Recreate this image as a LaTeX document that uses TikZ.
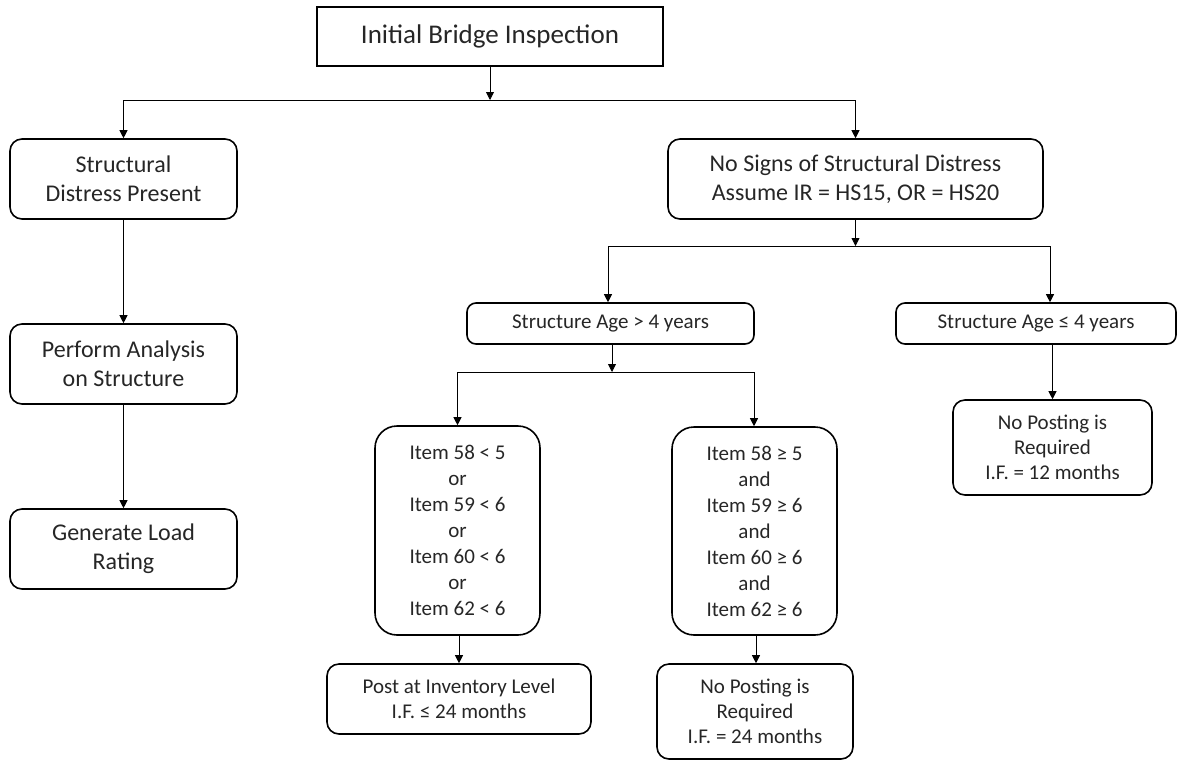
\documentclass[tikz,border=0pt]{standalone}
\usepackage{fontspec}
\setmainfont{Carlito}
\usetikzlibrary{arrows.meta}
\begin{document}
\begin{tikzpicture}[x=1pt,y=-1pt,
  box/.style={draw=black,line width=1.6pt,rounded corners=12pt,align=center,inner sep=0pt,text=black!85},
  big/.style={box,font=\fontsize{24}{29}\selectfont},
  small/.style={box,font=\fontsize{21}{25}\selectfont},
  item/.style={box,rounded corners=22pt,font=\fontsize{21}{26}\selectfont},
  arr/.style={line width=0.8pt,-{Triangle[width=8pt,length=8pt]}},
  ln/.style={line width=0.8pt}]
\useasboundingbox (0,0) rectangle (1180,761);
\node[box,rounded corners=0pt,minimum width=346pt,minimum height=59pt,font=\fontsize{27}{32}\selectfont] (init) at (490,36.5) {Initial Bridge Inspection};
\node[big,minimum width=227pt,minimum height=80pt] (sd) at (123.5,179) {Structural\\Distress Present};
\node[big,minimum width=227pt,minimum height=80pt] (pa) at (123.5,364) {Perform Analysis\\on Structure};
\node[big,minimum width=227pt,minimum height=80pt] (gl) at (123.5,549) {Generate Load\\Rating};
\node[big,minimum width=375pt,minimum height=80pt] (ns) at (855.5,179) {No Signs of Structural Distress\\Assume IR = HS15, OR = HS20};
\node[small,rounded corners=9pt,minimum width=287pt,minimum height=41pt] (sa1) at (610.5,323.5) {Structure Age > 4 years};
\node[small,rounded corners=9pt,minimum width=280pt,minimum height=41pt] (sa2) at (1036,323.5) {Structure Age ≤ 4 years};
\node[item,minimum width=165pt,minimum height=209pt] (li) at (457.5,530.5) {Item 58 < 5\\or\\Item 59 < 6\\or\\Item 60 < 6\\or\\Item 62 < 6};
\node[item,minimum width=165pt,minimum height=208pt] (ri) at (754.5,531) {Item 58 ≥ 5\\and\\Item 59 ≥ 6\\and\\Item 60 ≥ 6\\and\\Item 62 ≥ 6};
\node[small,minimum width=264pt,minimum height=70pt] (post) at (459,699) {Post at Inventory Level\\I.F. ≤ 24 months};
\node[small,minimum width=196pt,minimum height=95pt] (np24) at (755,711.5) {No Posting is\\Required\\I.F. = 24 months};
\node[small,minimum width=199pt,minimum height=95pt] (np12) at (1052.5,447.5) {No Posting is\\Required\\I.F. = 12 months};
% junctions
\coordinate (j1) at (490,100);
\coordinate (j2) at (855.5,246);
\coordinate (j3) at (612,372);
\draw[arr] (init.south) -- (j1);
\draw[ln] (sd.north |- j1) -- (ns.north |- j1);
\draw[arr] (sd.north |- j1) -- (sd.north);
\draw[arr] (ns.north |- j1) -- (ns.north);
\draw[arr] (sd.south) -- (pa.north);
\draw[arr] (pa.south) -- (gl.north);
\draw[arr] (ns.south) -- (j2);
\draw[ln] ([xshift=-2.5pt]sa1.north |- j2) -- ([xshift=14pt]sa2.north |- j2);
\draw[arr] ([xshift=-2.5pt]sa1.north |- j2) -- ([xshift=-2.5pt]sa1.north);
\draw[arr] ([xshift=14pt]sa2.north |- j2) -- ([xshift=14pt]sa2.north);
\draw[arr] ([xshift=1.5pt]sa1.south) -- (j3);
\draw[ln] (li.north |- j3) -- ([xshift=-0.5pt]ri.north |- j3);
\draw[arr] (li.north |- j3) -- (li.north);
\draw[arr] ([xshift=-0.5pt]ri.north |- j3) -- ([xshift=-0.5pt]ri.north);
\draw[arr] (post.north |- li.south) -- (post.north);
\draw[arr] ([xshift=1pt]np24.north |- ri.south) -- ([xshift=1pt]np24.north);
\draw[arr] (np12.north |- sa2.south) -- (np12.north);
\end{tikzpicture}
\end{document}
